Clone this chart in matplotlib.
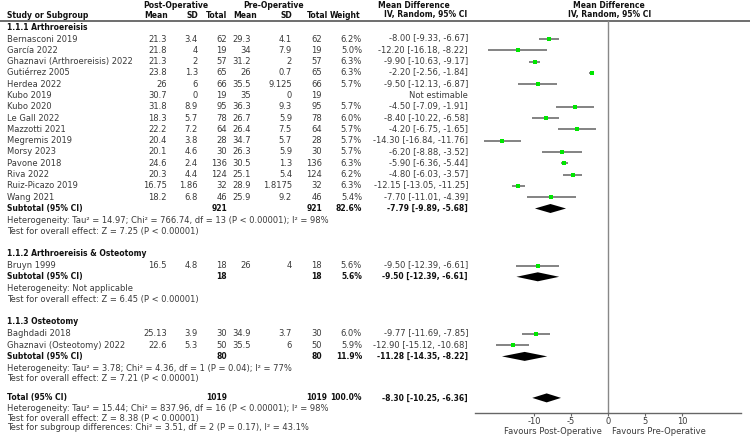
import numpy as np
import matplotlib
matplotlib.use("Agg")
import matplotlib.pyplot as plt
from matplotlib.patches import Polygon

# ---- data ----
g1_names = ["Bernasconi 2019", "García 2022", "Ghaznavi (Arthroereisis) 2022", "Gutiérrez 2005",
            "Herdea 2022", "Kubo 2019", "Kubo 2020", "Le Gall 2022", "Mazzotti 2021",
            "Megremis 2019", "Morsy 2023", "Pavone 2018", "Riva 2022", "Ruiz-Picazo 2019", "Wang 2021"]
g1_post_mean = [21.3, 21.8, 21.3, 23.8, 26, 30.7, 31.8, 18.3, 22.2, 20.4, 20.1, 24.6, 20.3, 16.75, 18.2]
g1_post_sd = [3.4, 4, 2, 1.3, 6, 0, 8.9, 5.7, 7.2, 3.8, 4.6, 2.4, 4.4, 1.86, 6.8]
g1_post_n = [62, 19, 57, 65, 66, 19, 95, 78, 64, 28, 30, 136, 124, 32, 46]
g1_pre_mean = [29.3, 34, 31.2, 26, 35.5, 35, 36.3, 26.7, 26.4, 34.7, 26.3, 30.5, 25.1, 28.9, 25.9]
g1_pre_sd = [4.1, 7.9, 2, 0.7, 9.125, 0, 9.3, 5.9, 7.5, 5.7, 5.9, 1.3, 5.4, 1.8175, 9.2]
g1_pre_n = [62, 19, 57, 65, 66, 19, 95, 78, 64, 28, 30, 136, 124, 32, 46]
g1_weight = [6.2, 5.0, 6.3, 6.3, 5.7, None, 5.7, 6.0, 5.7, 5.7, 5.7, 6.3, 6.2, 6.3, 5.4]
g1_md = [-8.00, -12.20, -9.90, -2.20, -9.50, None, -4.50, -8.40, -4.20, -14.30, -6.20, -5.90, -4.80, -12.15, -7.70]
g1_lo = [-9.33, -16.18, -10.63, -2.56, -12.13, None, -7.09, -10.22, -6.75, -16.84, -8.88, -6.36, -6.03, -13.05, -11.01]
g1_hi = [-6.67, -8.22, -9.17, -1.84, -6.87, None, -1.91, -6.58, -1.65, -11.76, -3.52, -5.44, -3.57, -11.25, -4.39]

g2_names = ["Bruyn 1999"]
g2_post_mean = [16.5]
g2_post_sd = [4.8]
g2_post_n = [18]
g2_pre_mean = [26]
g2_pre_sd = [4]
g2_pre_n = [18]
g2_weight = [5.6]
g2_md = [-9.50]
g2_lo = [-12.39]
g2_hi = [-6.61]

g3_names = ["Baghdadi 2018", "Ghaznavi (Osteotomy) 2022"]
g3_post_mean = [25.13, 22.6]
g3_post_sd = [3.9, 5.3]
g3_post_n = [30, 50]
g3_pre_mean = [34.9, 35.5]
g3_pre_sd = [3.7, 6]
g3_pre_n = [30, 50]
g3_weight = [6.0, 5.9]
g3_md = [-9.77, -12.90]
g3_lo = [-11.69, -15.12]
g3_hi = [-7.85, -10.68]

sub_titles = ["1.1.1 Arthroereisis", "1.1.2 Arthroereisis & Osteotomy", "1.1.3 Osteotomy"]
sub_n_post = [921, 18, 80]
sub_n_pre = [921, 18, 80]
sub_weight = [82.6, 5.6, 11.9]
sub_md = [-7.79, -9.50, -11.28]
sub_lo = [-9.89, -12.39, -14.35]
sub_hi = [-5.68, -6.61, -8.22]
sub_het = ["Heterogeneity: Tau² = 14.97; Chi² = 766.74, df = 13 (P < 0.00001); I² = 98%",
           "Heterogeneity: Not applicable",
           "Heterogeneity: Tau² = 3.78; Chi² = 4.36, df = 1 (P = 0.04); I² = 77%"]
sub_z = ["Test for overall effect: Z = 7.25 (P < 0.00001)",
         "Test for overall effect: Z = 6.45 (P < 0.00001)",
         "Test for overall effect: Z = 7.21 (P < 0.00001)"]

total_n_post = 1019
total_n_pre = 1019
total_weight = 100.0
total_md, total_lo, total_hi = -8.30, -10.25, -6.36
total_het = "Heterogeneity: Tau² = 15.44; Chi² = 837.96, df = 16 (P < 0.00001); I² = 98%"
total_z = "Test for overall effect: Z = 8.38 (P < 0.00001)"
total_sub = "Test for subgroup differences: Chi² = 3.51, df = 2 (P = 0.17), I² = 43.1%"

ticks = [-10, -5, 0, 5, 10]

groups = [
    (g1_names, g1_post_mean, g1_post_sd, g1_post_n, g1_pre_mean, g1_pre_sd, g1_pre_n, g1_weight, g1_md, g1_lo, g1_hi),
    (g2_names, g2_post_mean, g2_post_sd, g2_post_n, g2_pre_mean, g2_pre_sd, g2_pre_n, g2_weight, g2_md, g2_lo, g2_hi),
    (g3_names, g3_post_mean, g3_post_sd, g3_post_n, g3_pre_mean, g3_pre_sd, g3_pre_n, g3_weight, g3_md, g3_lo, g3_hi),
]

# ---- figure: one axes in pixel coords for the table, one for the forest ----
plt.rcParams['font.family'] = ['DejaVu Sans']
FS = 6.0    # regular text
FSB = 5.5   # bold text (DejaVu bold runs wide)
TXT = '#3a3a3a'
fig = plt.figure(figsize=(7.5, 4.42), dpi=100)
ax = fig.add_axes([0, 0, 1, 1])
ax.set_xlim(0, 750)
ax.set_ylim(442, 0)
ax.axis('off')

AX0, AX1 = 475, 741
fx = fig.add_axes([AX0 / 750, 0, (AX1 - AX0) / 750, 1])
fx.set_xlim(-18, 18)
fx.set_ylim(442, 0)
fx.patch.set_alpha(0)
for s in ['top', 'left', 'right']:
    fx.spines[s].set_visible(False)
AXIS_Y = 413
fx.spines['bottom'].set_position(('data', AXIS_Y))
fx.spines['bottom'].set_color('#666666')
fx.spines['bottom'].set_linewidth(1.0)
fx.set_yticks([])
fx.set_xticks(ticks)
fx.set_xticklabels([str(t) for t in ticks])
fx.tick_params(axis='x', direction='out', length=2.5, width=0.8, color='#666666',
               labelsize=FS, labelcolor=TXT, pad=0.5)

# column right edges (px)
C_NAME = 7
C_PM, C_PS, C_PN = 167, 198, 227
C_QM, C_QS, C_QN = 251, 292, 322
C_W = 362
C_CI = 468


def t(x, y, s, ha='right', bold=False, **kw):
    ax.text(x, y, s, ha=ha, va='center', fontsize=FSB if bold else FS,
            color='#111111' if bold else TXT,
            fontweight='bold' if bold else 'normal', **kw)


# headers
t(176, 5, "Post-Operative", ha='center', bold=True)
t(274, 5, "Pre-Operative", ha='center', bold=True)
t(450, 5, "Mean Difference", bold=True)
t(609, 5, "Mean Difference", ha='center', bold=True)
t(C_NAME, 15, "Study or Subgroup", ha='left', bold=True)
t(C_PM + 1, 15, "Mean", bold=True)
t(C_PS, 15, "SD", bold=True)
t(C_PN, 15, "Total", bold=True)
t(257, 15, "Mean", bold=True)
t(C_QS, 15, "SD", bold=True)
t(328, 15, "Total", bold=True)
t(360, 15, "Weight", bold=True)
t(467, 15, "IV, Random, 95% CI", bold=True)
t(610, 15, "IV, Random, 95% CI", ha='center', bold=True)
ax.plot([0, 750], [21, 21], color='#555555', lw=1.2)

fx.plot([0, 0], [21, AXIS_Y], color='#888888', lw=1.0)


def diamond(y, md, lo, hi, h=4.5):
    fx.add_patch(Polygon([(lo, y), (md, y - h), (hi, y), (md, y + h)], closed=True,
                         color='black', lw=0))


y = 27
for gi, g in enumerate(groups):
    names, pm, ps, pn, qm, qs, qn, w, md, lo, hi = g
    t(C_NAME, y, sub_titles[gi], ha='left', bold=True)
    y += 12
    for i in range(len(names)):
        t(C_NAME, y, names[i], ha='left')
        t(C_PM, y, '%g' % pm[i])
        t(C_PS, y, '%g' % ps[i])
        t(C_PN, y, '%d' % pn[i])
        t(C_QM, y, '%g' % qm[i])
        t(C_QS, y, '%g' % qs[i])
        t(C_QN, y, '%d' % qn[i])
        if w[i] is None:
            t(C_CI, y, "Not estimable")
        else:
            t(C_W, y, '%.1f%%' % w[i])
            t(C_CI, y, '%.2f [%.2f, %.2f]' % (md[i], lo[i], hi[i]))
            fx.plot([lo[i], hi[i]], [y, y], color='#7a7a7a', lw=1.3, solid_capstyle='butt')
            fx.plot(md[i], y, 's', color='#00e600', ms=2.3, mew=0, zorder=3)
        y += 11.3
    t(C_NAME, y, "Subtotal (95% CI)", ha='left', bold=True)
    t(C_PN, y, '%d' % sub_n_post[gi], bold=True)
    t(C_QN, y, '%d' % sub_n_pre[gi], bold=True)
    t(C_W, y, '%.1f%%' % sub_weight[gi], bold=True)
    t(C_CI, y, '%.2f [%.2f, %.2f]' % (sub_md[gi], sub_lo[gi], sub_hi[gi]), bold=True)
    diamond(y, sub_md[gi], sub_lo[gi], sub_hi[gi])
    y += 12
    t(C_NAME, y, sub_het[gi], ha='left')
    y += 10.5
    t(C_NAME, y, sub_z[gi], ha='left')
    y += 22.5

y -= 3.5
t(C_NAME, y, "Total (95% CI)", ha='left', bold=True)
t(C_PN, y, '%d' % total_n_post, bold=True)
t(C_QN + 5, y, '%d' % total_n_pre, bold=True)
t(C_W, y, '%.1f%%' % total_weight, bold=True)
t(C_CI, y, '%.2f [%.2f, %.2f]' % (total_md, total_lo, total_hi), bold=True)
diamond(y, total_md, total_lo, total_hi)
y += 10.5
t(C_NAME, y, total_het, ha='left')
y += 10
t(C_NAME, y, total_z, ha='left')
y += 9.5
t(C_NAME, y, total_sub, ha='left')

fx.text(-0.8, 431, "Favours Post-Operative", ha='right', va='center', fontsize=FS, color=TXT)
fx.text(0.6, 431, "Favours Pre-Operative", ha='left', va='center', fontsize=FS, color=TXT)

fig.savefig("out.png", dpi=100)
